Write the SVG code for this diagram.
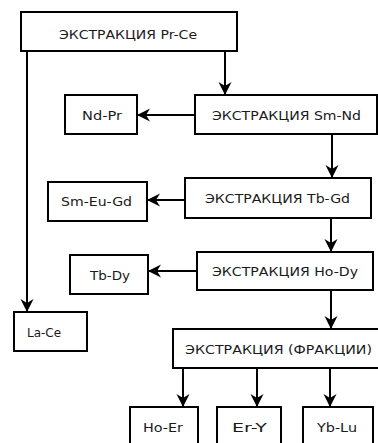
<svg xmlns="http://www.w3.org/2000/svg" width="378" height="443" viewBox="0 0 378 443">
  <style>
    .box { fill: #ffffff; stroke: #000000; stroke-width: 2; }
    .lbl { font-family: "DejaVu Sans", Verdana, sans-serif; font-size: 12px; fill: #1a1a1a; }
    .edge { fill: none; stroke: #000000; stroke-width: 2; marker-end: url(#arrow); }
  </style>
  <defs>
    <marker id="arrow" markerUnits="userSpaceOnUse" viewBox="0 0 14 14" markerWidth="14" markerHeight="14" refX="13" refY="7" orient="auto">
      <path d="M0,0.5 L13,7 L0,13.5 L4,7 Z" fill="#000000"/>
    </marker>
  </defs>
  <rect width="378" height="443" fill="#ffffff"/>

  <g id="connectors">
    <path class="edge" d="M225,51 L225,95"/>
    <path class="edge" d="M27,51 L27,312"/>
    <path class="edge" d="M195,115 L137,115"/>
    <path class="edge" d="M332,134 L332,178"/>
    <path class="edge" d="M185,200 L147,200"/>
    <path class="edge" d="M331,218 L331,252"/>
    <path class="edge" d="M197,271 L148,271"/>
    <path class="edge" d="M331,290 L331,329"/>
    <path class="edge" d="M183,368 L183,407"/>
    <path class="edge" d="M257,368 L257,407"/>
    <path class="edge" d="M330,368 L330,407"/>
  </g>

  <g id="extract-pr-ce">
    <rect class="box" x="21" y="12" width="216" height="39"/>
    <text class="lbl" x="59" y="39" textLength="138" lengthAdjust="spacingAndGlyphs">ЭКСТРАКЦИЯ Pr-Ce</text>
  </g>
  <g id="nd-pr">
    <rect class="box" x="65" y="95" width="72" height="39"/>
    <text class="lbl" x="82" y="120" textLength="40" lengthAdjust="spacingAndGlyphs">Nd-Pr</text>
  </g>
  <g id="extract-sm-nd">
    <rect class="box" x="195" y="95" width="182" height="39"/>
    <text class="lbl" x="212" y="120" textLength="149" lengthAdjust="spacingAndGlyphs">ЭКСТРАКЦИЯ Sm-Nd</text>
  </g>
  <g id="sm-eu-gd">
    <rect class="box" x="48" y="182" width="99" height="39"/>
    <text class="lbl" x="61" y="206" textLength="71" lengthAdjust="spacingAndGlyphs">Sm-Eu-Gd</text>
  </g>
  <g id="extract-tb-gd">
    <rect class="box" x="185" y="178" width="186" height="40"/>
    <text class="lbl" x="205" y="203" textLength="145" lengthAdjust="spacingAndGlyphs">ЭКСТРАКЦИЯ Tb-Gd</text>
  </g>
  <g id="tb-dy">
    <rect class="box" x="70" y="255" width="78" height="39"/>
    <text class="lbl" x="90" y="280" textLength="40" lengthAdjust="spacingAndGlyphs">Tb-Dy</text>
  </g>
  <g id="extract-ho-dy">
    <rect class="box" x="197" y="252" width="176" height="38"/>
    <text class="lbl" x="212" y="276" textLength="146" lengthAdjust="spacingAndGlyphs">ЭКСТРАКЦИЯ Ho-Dy</text>
  </g>
  <g id="la-ce">
    <rect class="box" x="14" y="312" width="73" height="39"/>
    <text class="lbl" x="27" y="337" textLength="34" lengthAdjust="spacingAndGlyphs">La-Ce</text>
  </g>
  <g id="extract-fractions">
    <rect class="box" x="173" y="329" width="210" height="39"/>
    <text class="lbl" x="185" y="354" textLength="187" lengthAdjust="spacingAndGlyphs">ЭКСТРАКЦИЯ (ФРАКЦИИ)</text>
  </g>
  <g id="ho-er">
    <rect class="box" x="130" y="407" width="68" height="45"/>
    <text class="lbl" x="143" y="432" textLength="40" lengthAdjust="spacingAndGlyphs">Ho-Er</text>
  </g>
  <g id="er-y">
    <rect class="box" x="217" y="407" width="64" height="45"/>
    <text class="lbl" x="232" y="432" textLength="35" lengthAdjust="spacingAndGlyphs">Er-Y</text>
  </g>
  <g id="yb-lu">
    <rect class="box" x="303" y="407" width="70" height="45"/>
    <text class="lbl" x="317" y="432" textLength="40" lengthAdjust="spacingAndGlyphs">Yb-Lu</text>
  </g>
</svg>
